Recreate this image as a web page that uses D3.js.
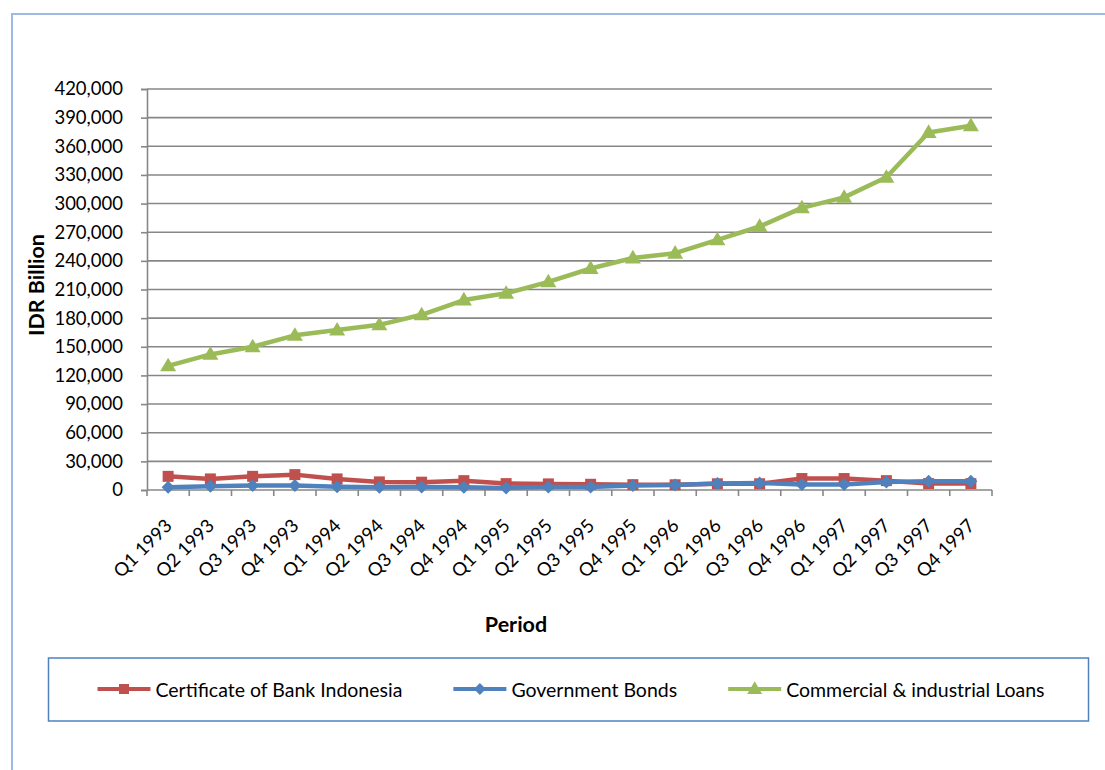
<!DOCTYPE html>
<html>
<head>
<meta charset="utf-8">
<script src="https://cdn.jsdelivr.net/npm/d3@7"></script>
<style>
  html, body { margin: 0; padding: 0; background: #fff; }
  svg { display: block; font-family: Lato, "Open Sans", sans-serif; }
</style>
</head>
<body>
<svg id="chart" width="1105" height="770"></svg>
<script>
// Quarterly periods
const categories = [
  "Q1 1993", "Q2 1993", "Q3 1993", "Q4 1993",
  "Q1 1994", "Q2 1994", "Q3 1994", "Q4 1994",
  "Q1 1995", "Q2 1995", "Q3 1995", "Q4 1995",
  "Q1 1996", "Q2 1996", "Q3 1996", "Q4 1996",
  "Q1 1997", "Q2 1997", "Q3 1997", "Q4 1997"
];

// IDR billion
const certificateBI = [14300, 11600, 14300, 16100, 11600, 8500, 8200, 9800, 6700, 6400,
                       6000, 5600, 5500, 6500, 6500, 12000, 12000, 9800, 6700, 6700];
const governmentBonds = [2900, 3900, 4600, 4600, 3500, 2900, 3200, 2900, 2200, 3200,
                         3200, 4600, 5300, 6700, 7300, 5700, 5700, 8500, 9100, 9100];
const commercialLoans = [130000, 142000, 150000, 162000, 167500, 173000, 183500, 199000, 206000, 218000,
                         232000, 243000, 248000, 262000, 276000, 295500, 306500, 327500, 374500, 381500];

const yTicks = [0, 30000, 60000, 90000, 120000, 150000, 180000, 210000, 240000, 270000,
                300000, 330000, 360000, 390000, 420000];

const seriesNames = ["Certificate of Bank Indonesia", "Government Bonds", "Commercial & industrial Loans"];

const series = [
  { name: seriesNames[0], values: certificateBI, color: "#C0504D", marker: "square" },
  { name: seriesNames[1], values: governmentBonds, color: "#4F81BD", marker: "diamond" },
  { name: seriesNames[2], values: commercialLoans, color: "#9BBB59", marker: "triangle" }
];

const svg = d3.select("#chart");
const gridColor = "#878787";

// Outer chart frame
svg.append("rect")
  .attr("x", 12).attr("y", 14)
  .attr("width", 1120).attr("height", 790)
  .attr("fill", "none")
  .attr("stroke", "#9FB8E6")
  .attr("stroke-width", 2);

const plot = { left: 147, right: 992, top: 89, bottom: 490 };

const x = d3.scaleBand().domain(categories).range([plot.left, plot.right]).paddingInner(0).paddingOuter(0);
const y = d3.scaleLinear().domain([0, 420000]).range([plot.bottom, plot.top]);
const cx = c => x(c) + x.bandwidth() / 2;

// Horizontal gridlines
svg.append("g")
  .selectAll("line")
  .data(yTicks.filter(d => d > 0))
  .join("line")
  .attr("x1", plot.left).attr("x2", plot.right)
  .attr("y1", d => y(d)).attr("y2", d => y(d))
  .attr("stroke", gridColor).attr("stroke-width", 1.6);

// Y axis
const yAxis = svg.append("g")
  .attr("transform", `translate(${plot.left},0)`)
  .call(d3.axisLeft(y).tickValues(yTicks).tickSize(6).tickPadding(18)
    .tickFormat(d3.format(",")));
yAxis.select(".domain").attr("stroke", gridColor).attr("stroke-width", 1.6);
yAxis.selectAll(".tick line").attr("stroke", gridColor).attr("stroke-width", 1.6);
yAxis.selectAll("text")
  .attr("font-size", 18.5)
  .attr("fill", "#000")
  .attr("font-family", "Lato, sans-serif");

// X axis with ticks at category boundaries
const xAxisG = svg.append("g").attr("transform", `translate(0,${plot.bottom})`);
xAxisG.append("line")
  .attr("x1", plot.left).attr("x2", plot.right)
  .attr("stroke", gridColor).attr("stroke-width", 1.6);
const boundaries = categories.map(c => x(c)).concat([plot.right]);
xAxisG.selectAll("line.tk")
  .data(boundaries)
  .join("line")
  .attr("class", "tk")
  .attr("x1", d => d).attr("x2", d => d)
  .attr("y1", 0).attr("y2", 6)
  .attr("stroke", gridColor).attr("stroke-width", 1.6);
xAxisG.selectAll("text")
  .data(categories)
  .join("text")
  .attr("transform", d => `translate(${cx(d) + 5},${37}) rotate(-45)`)
  .attr("text-anchor", "end")
  .attr("font-size", 18.5)
  .attr("fill", "#000")
  .text(d => d);

// Axis titles
svg.append("text")
  .attr("transform", `translate(43.5,285) rotate(-90)`)
  .attr("text-anchor", "middle")
  .attr("font-size", 21.5)
  .attr("font-weight", "bold")
  .text("IDR Billion");

svg.append("text")
  .attr("x", 516).attr("y", 632)
  .attr("text-anchor", "middle")
  .attr("font-size", 21.5)
  .attr("font-weight", "bold")
  .text("Period");

// Marker shapes
function markerPath(type, s) {
  if (type === "square") return `M${-s/2},${-s/2}h${s}v${s}h${-s}Z`;
  if (type === "diamond") return `M0,${-s/2}L${s/2},0L0,${s/2}L${-s/2},0Z`;
  const h = s * 0.85;
  return `M0,${-h*0.6}L${s/2},${h*0.4}L${-s/2},${h*0.4}Z`;
}
const markerSize = { square: 11, diamond: 13, triangle: 16 };

const line = d3.line().x(d => cx(d.c)).y(d => y(d.v));

series.forEach(s => {
  const pts = categories.map((c, i) => ({ c, v: s.values[i] }));
  const g = svg.append("g");
  g.append("path")
    .datum(pts)
    .attr("d", line)
    .attr("fill", "none")
    .attr("stroke", s.color)
    .attr("stroke-width", 4.5)
    .attr("stroke-linejoin", "round");
  g.selectAll("path.m")
    .data(pts)
    .join("path")
    .attr("class", "m")
    .attr("transform", d => `translate(${cx(d.c)},${y(d.v)})`)
    .attr("d", markerPath(s.marker, markerSize[s.marker]))
    .attr("fill", s.color);
});

// Legend
const legend = svg.append("g");
legend.append("rect")
  .attr("x", 48.5).attr("y", 658)
  .attr("width", 1040).attr("height", 63)
  .attr("fill", "#fff")
  .attr("stroke", "#4F81BD")
  .attr("stroke-width", 1.5);

const legendY = 689;
const lineLen = 53, textGap = 5, itemGap = 51;
const items = legend.selectAll("g.item").data(series).join("g").attr("class", "item");
items.append("text")
  .attr("font-size", 19.5)
  .attr("dominant-baseline", "central")
  .attr("y", legendY)
  .text(d => d.name);
const widths = [];
items.select("text").each(function () { widths.push(this.getComputedTextLength()); });
const total = widths.reduce((a, b) => a + b, 0) + series.length * (lineLen + textGap) + (series.length - 1) * itemGap;
let pos = 571 - total / 2;
items.each(function (d, i) {
  const g = d3.select(this);
  g.insert("line", "text")
    .attr("x1", pos).attr("x2", pos + lineLen)
    .attr("y1", legendY).attr("y2", legendY)
    .attr("stroke", d.color).attr("stroke-width", 4);
  g.insert("path", "text")
    .attr("transform", `translate(${pos + lineLen / 2},${legendY})`)
    .attr("d", markerPath(d.marker, markerSize[d.marker] - 1))
    .attr("fill", d.color);
  g.select("text").attr("x", pos + lineLen + textGap);
  pos += lineLen + textGap + widths[i] + itemGap;
});
</script>
</body>
</html>
